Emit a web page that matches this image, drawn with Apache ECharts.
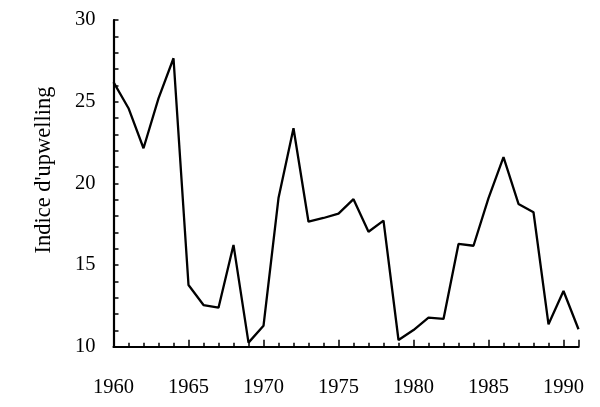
<!DOCTYPE html>
<html>
<head>
<meta charset="utf-8">
<script src="https://cdn.jsdelivr.net/npm/echarts@6/dist/echarts.min.js"></script>
<style>html,body{margin:0;padding:0;background:#fff}#c{width:600px;height:407px}</style>
</head>
<body>
<div id="c"></div>
<script>
var years = [1960,1961,1962,1963,1964,1965,1966,1967,1968,1969,1970,1971,1972,1973,1974,1975,1976,1977,1978,1979,1980,1981,1982,1983,1984,1985,1986,1987,1988,1989,1990,1991];
var upwelling = [26.2,24.6,22.15,25.2,27.66,13.78,12.55,12.39,16.23,10.25,11.28,19.1,23.37,17.65,17.88,18.15,19.03,17.04,17.72,10.41,11.02,11.78,11.7,16.29,16.18,19.1,21.6,18.74,18.23,11.37,13.41,11.07];
var yTicks = [10,15,20,25,30];
var xLabelYears = [1960,1965,1970,1975,1980,1985,1990];
var yTitle = "Indice d'upwelling";

var font = '"Liberation Serif","DejaVu Serif",serif';
var chart = echarts.init(document.getElementById('c'), null, {renderer:'canvas'});
var pts = years.map(function(y,i){return [y, upwelling[i]];});
chart.setOption({
  animation:false,
  backgroundColor:'#fff',
  grid:{left:113.5, right:21.5, top:20, bottom:60.3, containLabel:false},
  xAxis:[{
    type:'value', min:1960, max:1991, interval:5, position:'bottom',
    axisLine:{show:true, onZero:false, lineStyle:{color:'#000', width:2.2}},
    axisTick:{show:true, inside:false, length:-7, lineStyle:{color:'#000', width:1.5}},
    axisLabel:{margin:30, color:'#000', fontFamily:font, fontSize:20.5,
      formatter:function(v){return xLabelYears.indexOf(v)>=0 ? String(v) : '';}},
    splitLine:{show:false}
  },{
    type:'value', min:1960, max:1991, interval:1, position:'bottom',
    axisLine:{show:false, onZero:false},
    axisTick:{show:true, inside:false, length:-4, lineStyle:{color:'#000', width:1.5}},
    axisLabel:{show:false},
    splitLine:{show:false}
  }],
  yAxis:{
    type:'value', min:yTicks[0], max:yTicks[yTicks.length-1], interval:5,
    axisLine:{show:true, onZero:false, lineStyle:{color:'#000', width:2.2}},
    axisTick:{show:true, inside:false, length:-5, lineStyle:{color:'#000', width:1.5}},
    minorTick:{show:true, splitNumber:5, length:-5, lineStyle:{color:'#000', width:1.5}},
    axisLabel:{margin:18, color:'#000', fontFamily:font, fontSize:20.5},
    splitLine:{show:false}
  },
  graphic:[{
    type:'text', x:44, y:170, rotation:Math.PI/2,
    style:{text:yTitle, font:'22.5px '+font, fill:'#000', textAlign:'center', textVerticalAlign:'middle'}
  }],
  series:[{
    type:'line', data:pts, xAxisIndex:0, showSymbol:false, symbol:'none',
    lineStyle:{color:'#000', width:2.3}, clip:false
  }]
});
</script>
</body>
</html>
